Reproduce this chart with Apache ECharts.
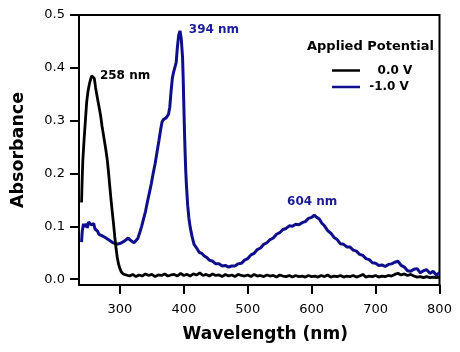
<!DOCTYPE html>
<html>
<head>
<meta charset="utf-8">
<script src="https://cdn.jsdelivr.net/npm/echarts@6/dist/echarts.min.js"></script>
<style>html,body{margin:0;padding:0;background:#fff;}#c{width:460px;height:352px;}</style>
</head>
<body>
<div id="c"></div>
<script>
const xTicks = [300, 400, 500, 600, 700, 800];
const yTicks = [0.0, 0.1, 0.2, 0.3, 0.4, 0.5];
const seriesNames = ['0.0 V', '-1.0 V'];
const peakLabels = ['258 nm', '394 nm', '604 nm'];
const peakCoords = [[258, 0.386], [394, 0.47], [604, 0.12]];

const black = [
[240,0.145],[241,0.19],[242,0.225],[244,0.265],[246,0.30],[248,0.335],[250,0.355],[252,0.368],[254,0.378],[256,0.385],[258,0.386],[260,0.38],[262,0.362],[264,0.348],[266,0.335],[268,0.322],[270,0.308],[272,0.29],[274,0.275],[276,0.26],[278,0.245],[280,0.228],[282,0.205],[284,0.178],[286,0.152],[288,0.128],[290,0.105],[292,0.08],[294,0.058],[296,0.04],[298,0.028],[300,0.02],[302,0.014],[305,0.01],
[310,0.008],[315,0.006],[320,0.009],[325,0.005],[330,0.008],[335,0.006],[340,0.010],[345,0.007],[350,0.009],[355,0.005],[360,0.008],[365,0.007],[370,0.010],[375,0.006],[380,0.008],[385,0.009],[390,0.006],[395,0.011],[400,0.007],[405,0.009],[410,0.006],[415,0.010],[420,0.008],[425,0.012],[430,0.007],[435,0.009],[440,0.006],[445,0.010],[450,0.007],[455,0.008],[460,0.005],[465,0.009],[470,0.006],[475,0.008],[480,0.005],[485,0.009],[490,0.007],[495,0.006],[500,0.008],[505,0.005],[510,0.009],[515,0.006],[520,0.007],[525,0.005],[530,0.008],[535,0.006],[540,0.007],[545,0.004],[550,0.008],[555,0.006],[560,0.005],[565,0.007],[570,0.004],[575,0.007],[580,0.005],[585,0.006],[590,0.004],[595,0.007],[600,0.005],[605,0.006],[610,0.004],[615,0.007],[620,0.005],[625,0.008],[630,0.004],[635,0.006],[640,0.005],[645,0.007],[650,0.004],[655,0.006],[660,0.005],[665,0.007],[670,0.004],[675,0.006],[680,0.009],[685,0.004],[690,0.006],[695,0.005],[700,0.007],[705,0.004],[710,0.006],[715,0.005],[720,0.007],[725,0.006],[730,0.009],[735,0.011],[740,0.008],[745,0.010],[750,0.007],[755,0.009],[760,0.006],[765,0.004],[770,0.005],[775,0.003],[780,0.005],[785,0.003],[790,0.004],[795,0.003],[800,0.004]
];

const blue = [
[240,0.07],[241,0.09],[243,0.105],[245,0.099],[247,0.105],[249,0.097],[251,0.108],[253,0.111],[255,0.103],[257,0.101],[259,0.105],[261,0.095],[263,0.093],[265,0.091],[267,0.085],[269,0.086],[271,0.083],[274,0.082],[277,0.079],[280,0.079],[283,0.074],[286,0.074],[289,0.069],[292,0.069],[295,0.066],[298,0.066],[301,0.068],[304,0.067],[307,0.072],[310,0.073],[313,0.078],[316,0.074],[319,0.073],[322,0.069],[325,0.072],[328,0.077],[331,0.088],[334,0.1],[337,0.114],[340,0.128],[343,0.146],[346,0.163],[349,0.18],[352,0.2],[355,0.218],[358,0.24],[361,0.262],[364,0.285],[366,0.298],[368,0.302],[370,0.303],[372,0.305],[374,0.308],[376,0.312],[378,0.325],[380,0.355],[382,0.38],[384,0.392],[386,0.395],[388,0.41],[390,0.44],[392,0.462],[394,0.47],[396,0.455],[398,0.42],[399,0.38],[400,0.33],[401,0.28],[402,0.24],[403,0.205],[404,0.18],[406,0.14],[408,0.115],[410,0.098],[413,0.08],[416,0.066],[420,0.059],[424,0.051],[428,0.049],[432,0.044],[436,0.041],[440,0.036],[445,0.034],[450,0.029],[455,0.029],[460,0.025],[465,0.026],[470,0.023],[475,0.025],[480,0.025],[485,0.029],[490,0.03],[495,0.036],[500,0.039],[505,0.046],[510,0.049],[515,0.056],[520,0.059],[525,0.066],[530,0.069],[535,0.075],[540,0.078],[545,0.085],[550,0.088],[555,0.094],[560,0.096],[565,0.101],[570,0.1],[575,0.104],[580,0.103],[585,0.107],[590,0.109],[595,0.115],[600,0.117],[604,0.121],[608,0.117],[612,0.114],[616,0.106],[620,0.101],[625,0.092],[630,0.087],[635,0.079],[640,0.075],[645,0.067],[650,0.066],[655,0.061],[660,0.061],[665,0.055],[670,0.053],[675,0.047],[680,0.045],[685,0.039],[690,0.037],[695,0.031],[700,0.03],[705,0.026],[710,0.027],[715,0.024],[720,0.028],[725,0.029],[730,0.032],[735,0.034],[740,0.026],[745,0.023],[750,0.016],[755,0.015],[760,0.019],[765,0.02],[770,0.012],[775,0.016],[780,0.018],[785,0.011],[790,0.015],[795,0.008],[800,0.012]
];

const FONT = 'DejaVu Sans';
const BLUE = '#0f0f8c';
const chart = echarts.init(document.getElementById('c'), null, {renderer: 'canvas'});

chart.setOption({
  animation: false,
  backgroundColor: '#fff',
  grid: {left: 79, right: 20.5, top: 15, bottom: 67, show: true, borderColor: '#000', borderWidth: 2, backgroundColor: 'transparent'},
  title: {text: 'Applied Potential', left: 302, top: 35,
    textStyle: {fontFamily: FONT, fontSize: 13, fontWeight: 'bold', color: '#000'}},
  legend: [
    {data: [seriesNames[0]], left: 327, top: 59.5, icon: 'rect', itemWidth: 28, itemHeight: 2.5,
      formatter: n => '   ' + n, textStyle: {fontFamily: FONT, fontSize: 12, fontWeight: 'bold', color: '#000'}},
    {data: [seriesNames[1]], left: 327, top: 76, icon: 'rect', itemWidth: 28, itemHeight: 2.5,
      formatter: n => ' ' + n, textStyle: {fontFamily: FONT, fontSize: 12, fontWeight: 'bold', color: '#000'}}
  ],
  xAxis: {
    type: 'value', min: 236, max: 800,
    name: 'Wavelength (nm)', nameLocation: 'middle', nameGap: 41,
    nameTextStyle: {fontFamily: FONT, fontSize: 17, fontWeight: 'bold', color: '#000', padding: [0, 0, 0, 12]},
    splitLine: {show: false},
    axisLine: {show: true, onZero: false, lineStyle: {color: '#000', width: 2}},
    axisTick: {show: true, length: 9, inside: false, customValues: xTicks, lineStyle: {color: '#000', width: 2}},
    axisLabel: {customValues: xTicks, margin: 18, fontFamily: FONT, fontSize: 13, color: '#000'}
  },
  yAxis: {
    type: 'value', min: -0.011, max: 0.5,
    name: 'Absorbance', nameLocation: 'middle', nameGap: 52,
    nameTextStyle: {fontFamily: FONT, fontSize: 17.5, fontWeight: 'bold', color: '#000'},
    splitLine: {show: false},
    axisLine: {show: true, onZero: false, lineStyle: {color: '#000', width: 2}},
    axisTick: {show: true, length: 9, inside: false, customValues: yTicks, lineStyle: {color: '#000', width: 2}},
    axisLabel: {customValues: yTicks, margin: 14, fontFamily: FONT, fontSize: 13, color: '#000',
      formatter: v => v.toFixed(1)}
  },
  series: [
    {name: seriesNames[0], type: 'line', data: black, showSymbol: false, symbol: 'none',
      lineStyle: {color: '#000', width: 2.8}, itemStyle: {color: '#000'}, z: 3,
      markPoint: {
        symbol: 'circle', symbolSize: 0,
        data: [{coord: peakCoords[0], label: {offset: [32, 1], formatter: peakLabels[0]}}],
        label: {show: true, position: 'inside', fontFamily: FONT, fontSize: 12, fontWeight: 'bold', color: '#000'}
      }},
    {name: seriesNames[1], type: 'line', data: blue, showSymbol: false, symbol: 'none',
      lineStyle: {color: BLUE, width: 3}, itemStyle: {color: BLUE}, z: 2,
      markPoint: {
        symbol: 'circle', symbolSize: 0,
        data: [
          {coord: peakCoords[1], label: {offset: [34, -1], formatter: peakLabels[1]}},
          {coord: peakCoords[2], label: {offset: [-2, -14], formatter: peakLabels[2]}}
        ],
        label: {show: true, position: 'inside', fontFamily: FONT, fontSize: 12, fontWeight: 'bold', color: '#1c1c96'}
      }}
  ]
});
</script>
</body>
</html>
